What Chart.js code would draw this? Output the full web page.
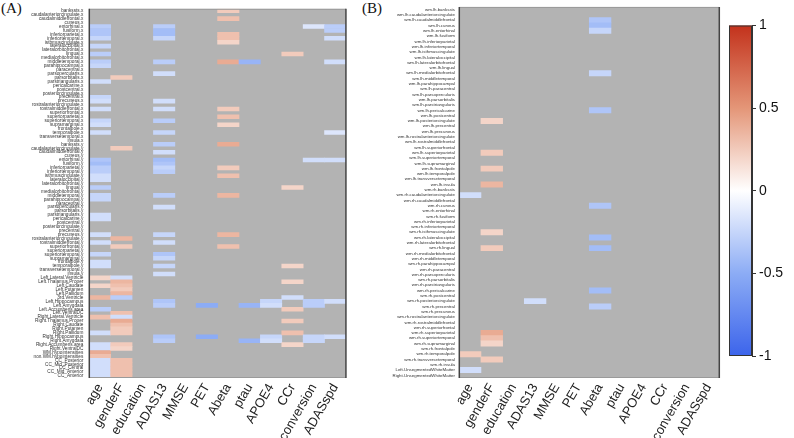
<!DOCTYPE html>
<html><head><meta charset="utf-8">
<script src="https://cdn.jsdelivr.net/npm/chart.js@4.4.1/dist/chart.umd.min.js"></script>
<style>
html,body{margin:0;padding:0;background:#fff;width:794px;height:438px;overflow:hidden;}
.box{position:absolute;}
.tag{position:absolute;font-family:"Liberation Serif","DejaVu Serif",serif;font-size:15px;color:#111;line-height:17px;}
</style></head><body>
<div class="tag" style="left:1px;top:0px">(A)</div>
<div class="tag" style="left:362px;top:0px">(B)</div>
<div class="box" style="left:0;top:0;width:352px;height:438px"><canvas id="ca"></canvas></div>
<div class="box" style="left:360px;top:0;width:366px;height:438px"><canvas id="cb"></canvas></div>
<div class="box" style="left:722px;top:0;width:72px;height:438px"><canvas id="cc"></canvas></div>
<script>
// ---------- categories ----------
const variables = ['age','genderF','education','ADAS13','MMSE','PET','Abeta','ptau','APOE4','CCr','conversion','ADASspd'];
const regions = ['bankssts','caudalanteriorcingulate','caudalmiddlefrontal','cuneus','entorhinal','fusiform',
  'inferiorparietal','inferiortemporal','isthmuscingulate','lateraloccipital','lateralorbitofrontal','lingual',
  'medialorbitofrontal','middletemporal','parahippocampal','paracentral','parsopercularis','parsorbitalis',
  'parstriangularis','pericalcarine','postcentral','posteriorcingulate','precentral','precuneus',
  'rostralanteriorcingulate','rostralmiddlefrontal','superiorfrontal','superiorparietal','superiortemporal',
  'supramarginal','frontalpole','temporalpole','transversetemporal','insula'];
const subcortical = ['Left.Lateral.Ventricle','Left.Thalamus.Proper','Left.Caudate','Left.Putamen','Left.Pallidum',
  '3rd.Ventricle','Left.Hippocampus','Left.Amygdala','Left.Accumbens.area','Left.VentralDC',
  'Right.Lateral.Ventricle','Right.Thalamus.Proper','Right.Caudate','Right.Putamen','Right.Pallidum',
  'Right.Hippocampus','Right.Amygdala','Right.Accumbens.area','Right.VentralDC','WM.hypointensities',
  'non.WM.hypointensities','CC_Posterior','CC_Mid_Posterior','CC_Central','CC_Mid_Anterior','CC_Anterior'];
const unsegmented = ['Left.UnsegmentedWhiteMatter','Right.UnsegmentedWhiteMatter'];
const rowsA = [...regions.map(r => r + '.x'), ...regions.map(r => r + '.y'), ...subcortical];
const rowsB = [...regions.map(r => 'wm.lh.' + r), ...regions.map(r => 'wm.rh.' + r), ...unsegmented];
const colorbarTicks = [1, 0.5, 0, -0.5, -1];
const colorbarLabels = ['1', '0.5', '0', '-0.5', '-1'];

// ---------- significant correlations: [row index, r] per variable ----------
// Panel A
const A_age = [[4,-.3],[5,-.35],[6,-.35],[7,-.25],[9,-.25],[11,-.3],[13,-.3],[14,-.25],[18,-.2],[22,-.25],[23,-.2],
  [25,-.2],[28,-.25],[29,-.2],[31,-.2],[38,-.35],[39,-.4],[40,-.3],[41,-.3],[42,-.2],[43,-.2],[45,-.3],[47,-.25],
  [48,-.25],[52,-.2],[53,-.2],[57,-.2],[59,-.2],[62,-.25],[64,-.2],[65,-.2],[68,.2],[70,.2],[73,.35],[76,-.3],
  [78,.3],[82,-.2],[85,-.2],[86,-.2],[87,.4],[88,.3],[89,-.2],[90,-.2],[91,-.2],[92,-.2],[93,-.2]];
const A_genderF = [[17,.25],[35,.25],[58,.35],[60,.25],[68,-.2],[69,.35],[70,.3],[71,.25],[72,.35],[73,-.3],
  [77,.3],[78,-.2],[79,.4],[80,.3],[81,.25],[82,.25],[85,.25],[86,.2],[89,.3],[90,.3],[91,.3],[92,.3],[93,.3]];
const A_education = [];
const A_ADAS13 = [[4,-.3],[5,-.4],[6,-.4],[7,-.25],[13,-.3],[16,-.2],[23,-.2],[25,-.2],[28,-.3],[31,-.25],[34,-.3],
  [36,-.2],[38,-.4],[39,-.35],[40,-.25],[41,-.3],[47,-.3],[50,-.2],[57,-.25],[59,-.2],[62,-.35],[63,-.25],[65,-.25],
  [67,-.2],[74,-.35],[75,-.3],[83,-.35],[84,-.3]];
const A_MMSE = [];
const A_PET = [[75,-.5],[83,-.5]];
const A_Abeta = [[0,.25],[2,.3],[6,.3],[7,.3],[8,.2],[13,.4],[25,.25],[27,.3],[29,.2],[34,.4],[40,.25],[42,.3],
  [47,.35],[57,.35],[60,.3]];
const A_ptau = [[13,-.45],[75,-.45],[84,-.45]];
const A_APOE4 = [[74,-.25],[75,-.2],[83,-.25],[84,-.2]];
const A_CCr = [[11,.25],[45,.2],[65,.2],[69,.2],[73,-.2],[76,.25],[79,.25],[82,.3],[85,.2]];
const A_conversion = [[4,-.15],[38,-.2],[74,-.3],[75,-.3],[83,-.25],[84,-.25]];
const A_ADASspd = [[4,-.3],[5,-.3],[7,-.2],[13,-.2],[31,-.15],[38,-.2],[74,-.2],[83,-.2]];
// Panel B
const B_age = [[35,-.2],[65,.25],[68,-.2]];
const B_genderF = [[21,.2],[27,.25],[30,.25],[33,.35],[42,.2],[45,.25],[61,.4],[62,.3],[63,.2],[66,.25]];
const B_education = [];
const B_ADAS13 = [[55,-.2]];
const B_MMSE = [];
const B_PET = [];
const B_Abeta = [[2,-.35],[3,-.4],[4,-.25],[12,-.25],[19,-.35],[37,-.35],[43,-.4],[45,-.4],[53,-.4],[56,-.3]];
const B_ptau = [];
const B_APOE4 = [];
const B_CCr = [];
const B_conversion = [];
const B_ADASspd = [];

const panelA = [A_age,A_genderF,A_education,A_ADAS13,A_MMSE,A_PET,A_Abeta,A_ptau,A_APOE4,A_CCr,A_conversion,A_ADASspd];
const panelB = [B_age,B_genderF,B_education,B_ADAS13,B_MMSE,B_PET,B_Abeta,B_ptau,B_APOE4,B_CCr,B_conversion,B_ADASspd];

// ---------- colour scale ----------
const stops = [[-1,[60,100,235]],[-0.5,[140,172,245]],[0,[255,255,255]],[0.5,[228,150,120]],[1,[195,50,28]]];
function colorOf(v){
  for (let i = 0; i < stops.length - 1; i++){
    const [a, ca] = stops[i], [b, cb] = stops[i+1];
    if (v >= a && v <= b){
      const t = (v - a) / (b - a);
      const c = ca.map((x, k) => Math.round(x + (cb[k] - x) * t));
      return `rgb(${c[0]},${c[1]},${c[2]})`;
    }
  }
  return '#fff';
}

const FONT = '"Liberation Sans", Arial, sans-serif';
const frame = {
  id: 'frame',
  beforeDatasetsDraw(chart){
    const {ctx, chartArea: a} = chart;
    ctx.save();
    ctx.fillStyle = '#b3b3b3';
    ctx.fillRect(a.left, a.top, a.right - a.left, a.bottom - a.top);
    ctx.restore();
  },
  afterDatasetsDraw(chart){
    const {ctx, chartArea: a} = chart;
    ctx.save();
    ctx.strokeStyle = '#9a9a9a'; ctx.lineWidth = 1;
    ctx.beginPath();
    ctx.moveTo(a.left, a.top + 0.5); ctx.lineTo(a.right, a.top + 0.5);
    ctx.moveTo(a.left, a.bottom - 0.5); ctx.lineTo(a.right, a.bottom - 0.5);
    ctx.stroke();
    ctx.strokeStyle = '#444'; ctx.lineWidth = 1.5;
    ctx.beginPath();
    ctx.moveTo(a.left, a.top); ctx.lineTo(a.left, a.bottom);
    ctx.moveTo(a.right, a.top); ctx.lineTo(a.right, a.bottom);
    ctx.stroke();
    ctx.restore();
  }
};

function heatChart(id, rows, cols, yWidth, padRight, padTop, fontSize, tickPad){
  const data = [], colors = [];
  cols.forEach((list, c) => list.forEach(([r, v]) => {
    data.push({x: [c, c + 1], y: rows[r]});
    colors.push(colorOf(v));
  }));
  return new Chart(document.getElementById(id), {
    type: 'bar',
    data: {labels: rows, datasets: [{data, backgroundColor: colors, borderWidth: 0,
      barPercentage: 1, categoryPercentage: 1, xAxisID: 'x', yAxisID: 'y'}]},
    options: {
      indexAxis: 'y', responsive: true, maintainAspectRatio: false, animation: false,
      layout: {padding: {left: 0, right: padRight, top: padTop, bottom: 0}},
      plugins: {legend: {display: false}, tooltip: {enabled: false}},
      scales: {
        x: {type: 'linear', min: 0, max: variables.length, display: false},
        xl: {type: 'category', axis: 'x', position: 'bottom', labels: variables, offset: true,
          grid: {display: false, drawTicks: false}, border: {display: false},
          ticks: {autoSkip: false, minRotation: 60, maxRotation: 60, padding: 3,
            font: {size: 13, family: FONT}, color: '#222'},
          afterFit(s){ s.height = 60; }},
        y: {type: 'category', labels: rows, offset: true,
          grid: {display: false, drawTicks: false}, border: {display: false},
          ticks: {autoSkip: false, padding: tickPad, font: {size: fontSize, family: FONT}, color: '#333'},
          afterFit(s){ s.width = yWidth; }}
      }
    },
    plugins: [frame]
  });
}

heatChart('ca', rowsA, panelA, 89.3, 5.3, 7.3, 4.7, 6);
heatChart('cb', rowsB, panelB, 99.3, 6.7, 5.3, 4.4, 4.3);

// ---------- colour bar ----------
const colorbar = {
  id: 'colorbar',
  beforeDatasetsDraw(chart){
    const {ctx, chartArea: a} = chart;
    const y = chart.scales.y;
    const top = y.getPixelForValue(1), bot = y.getPixelForValue(-1);
    const g = ctx.createLinearGradient(0, top, 0, bot);
    stops.forEach(([v, c]) => g.addColorStop((1 - v) / 2, `rgb(${c[0]},${c[1]},${c[2]})`));
    ctx.save();
    ctx.fillStyle = g;
    ctx.fillRect(a.left, top, a.right - a.left, bot - top);
    ctx.strokeStyle = '#333'; ctx.lineWidth = 1;
    ctx.strokeRect(a.left + 0.5, top + 0.5, a.right - a.left - 1, bot - top - 1);
    ctx.restore();
  }
};
new Chart(document.getElementById('cc'), {
  type: 'bar',
  data: {labels: [''], datasets: [{data: [null]}]},
  options: {
    responsive: true, maintainAspectRatio: false, animation: false,
    layout: {padding: {left: 7, right: 0, top: 25.5, bottom: 82}},
    plugins: {legend: {display: false}, tooltip: {enabled: false}},
    scales: {
      x: {display: false},
      y: {position: 'right', min: -1, max: 1,
        afterBuildTicks(s){ s.ticks = colorbarTicks.map(v => ({value: v})); },
        grid: {display: true, drawOnChartArea: false, drawTicks: true, tickLength: 4, color: '#333'},
        border: {display: true, color: '#333'},
        ticks: {padding: 3, font: {size: 14, family: FONT}, color: '#111',
          callback: (v) => colorbarLabels[colorbarTicks.indexOf(v)] ?? String(v)},
        afterFit(s){ s.width = 42; }}
    }
  },
  plugins: [colorbar]
});
</script>
</body></html>
